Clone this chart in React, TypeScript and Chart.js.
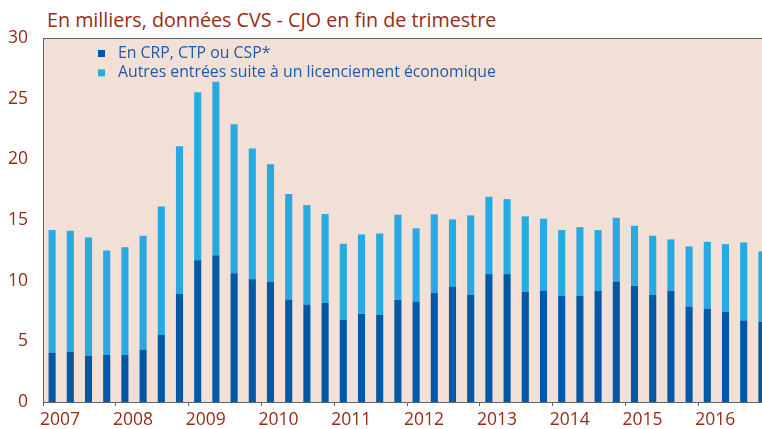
import React, { useEffect, useRef } from "react";
import { Chart, registerables } from "chart.js";

Chart.register(...registerables);

const years = ["2007", "2008", "2009", "2010", "2011", "2012", "2013", "2014", "2015", "2016"];
const quarterNames = ["T1", "T2", "T3", "T4"];
const categories: string[] = years.flatMap((y) => quarterNames.map((q) => `${q} ${y}`));

const seriesNames = ["En CRP, CTP ou CSP*", "Autres entrées suite à un licenciement économique"];

const crpCtpCsp = [
  4.07, 4.13, 3.83, 3.88, 3.88, 4.32, 5.53, 8.91, 11.69, 12.1,
  10.62, 10.12, 9.9, 8.45, 8.03, 8.17, 6.77, 7.26, 7.18, 8.42,
  8.28, 8.99, 9.49, 8.83, 10.54, 10.54, 9.08, 9.16, 8.75, 8.75,
  9.16, 9.93, 9.57, 8.83, 9.16, 7.87, 7.67, 7.43, 6.72, 6.6,
];

const autresEntrees = [
  10.1, 9.98, 9.73, 8.61, 8.88, 9.38, 10.59, 12.16, 13.84, 14.3,
  12.28, 10.78, 9.69, 8.69, 8.2, 7.32, 6.27, 6.55, 6.71, 7.01,
  6.03, 6.47, 5.56, 6.55, 6.37, 6.18, 6.22, 5.94, 5.42, 5.66,
  5.01, 5.25, 4.95, 4.87, 4.24, 4.95, 5.53, 5.58, 6.43, 5.81,
];

const yTicks = [0, 5, 10, 15, 20, 25, 30];

const title = "En milliers, données CVS - CJO en fin de trimestre";

const DARK = "#0058a6";
const LIGHT = "#27aae1";
const BG = "#f2dfd6";
const AXIS = "#5c6670";
const RED = "#962c18";
const LEGEND_TEXT = "#1e5ba8";
const FONT = "'Open Sans', 'Noto Sans', sans-serif";

const framePlugin = {
  id: "frame",
  beforeDraw(chart: any) {
    const { ctx, chartArea } = chart;
    ctx.save();
    ctx.fillStyle = BG;
    ctx.fillRect(chartArea.left, chartArea.top, chartArea.right - chartArea.left, chartArea.bottom - chartArea.top);
    ctx.restore();
  },
  afterDraw(chart: any) {
    const { ctx, chartArea } = chart;
    ctx.save();
    ctx.strokeStyle = AXIS;
    ctx.lineWidth = 1;
    ctx.beginPath();
    ctx.moveTo(chartArea.left, chartArea.top + 0.5);
    ctx.lineTo(chartArea.right, chartArea.top + 0.5);
    ctx.stroke();
    // legend inside the plot area
    const colors = [DARK, LIGHT];
    ctx.font = `15.8px ${FONT}`;
    ctx.textBaseline = "middle";
    seriesNames.forEach((name, i) => {
      const cy = chartArea.top + 15.5 + i * 19.4;
      ctx.fillStyle = colors[i];
      ctx.fillRect(chartArea.left + 55, cy - 3.5, 7, 7);
      ctx.fillStyle = LEGEND_TEXT;
      ctx.fillText(name, chartArea.left + 75, cy);
    });
    ctx.restore();
  },
};

export default function App() {
  const canvasRef = useRef<HTMLCanvasElement | null>(null);

  useEffect(() => {
    if (!canvasRef.current) return;
    const chart = new Chart(canvasRef.current, {
      type: "bar",
      data: {
        labels: categories,
        datasets: [
          {
            label: seriesNames[0],
            data: crpCtpCsp,
            backgroundColor: DARK,
            borderWidth: 0,
            categoryPercentage: 1,
            barPercentage: 0.39,
          },
          {
            label: seriesNames[1],
            data: autresEntrees,
            backgroundColor: LIGHT,
            borderWidth: 0,
            categoryPercentage: 1,
            barPercentage: 0.39,
          },
        ],
      },
      options: {
        animation: false,
        responsive: false,
        maintainAspectRatio: false,
        layout: { padding: { top: 38, right: 4, left: 0, bottom: 0 } },
        plugins: {
          legend: { display: false },
          tooltip: { enabled: false },
        },
        scales: {
          x: {
            stacked: true,
            offset: true,
            afterFit: (s: any) => {
              s.height = 27;
            },
            border: { display: true, color: AXIS, width: 1 },
            grid: {
              display: true,
              offset: true,
              drawOnChartArea: false,
              drawTicks: true,
              tickLength: 4,
              tickColor: (ctx: any) => (ctx.index % 4 === 0 ? AXIS : "rgba(0,0,0,0)"),
            },
            ticks: {
              autoSkip: false,
              maxRotation: 0,
              minRotation: 0,
              align: "start",
              labelOffset: -12,
              padding: 4,
              color: RED,
              font: { family: FONT, size: 17.5 },
              callback: (_v: any, i: number) => (i % 4 === 0 ? years[i / 4] : ""),
            },
          },
          y: {
            stacked: true,
            min: yTicks[0],
            max: yTicks[yTicks.length - 1],
            afterFit: (s: any) => {
              s.width = 43;
            },
            afterBuildTicks: (s: any) => {
              s.ticks = yTicks.map((v) => ({ value: v }));
            },
            border: { display: true, color: AXIS, width: 1 },
            grid: { display: false, drawTicks: false },
            ticks: {
              padding: 15,
              color: RED,
              font: { family: FONT, size: 17.5 },
            },
          },
        },
      },
      plugins: [framePlugin],
    } as any);
    return () => chart.destroy();
  }, []);

  return (
    <div style={{ position: "absolute", left: 0, top: 0, width: 762, height: 429, overflow: "hidden", background: "#fff" }}>
      <div
        style={{
          position: "absolute",
          left: 47,
          top: 7,
          fontFamily: FONT,
          fontSize: 19.7,
          lineHeight: "26px",
          color: RED,
          whiteSpace: "nowrap",
        }}
      >
        {title}
      </div>
      <canvas ref={canvasRef} width={775} height={429} style={{ position: "absolute", left: 0, top: 0, width: 775, height: 429 }} />
    </div>
  );
}
